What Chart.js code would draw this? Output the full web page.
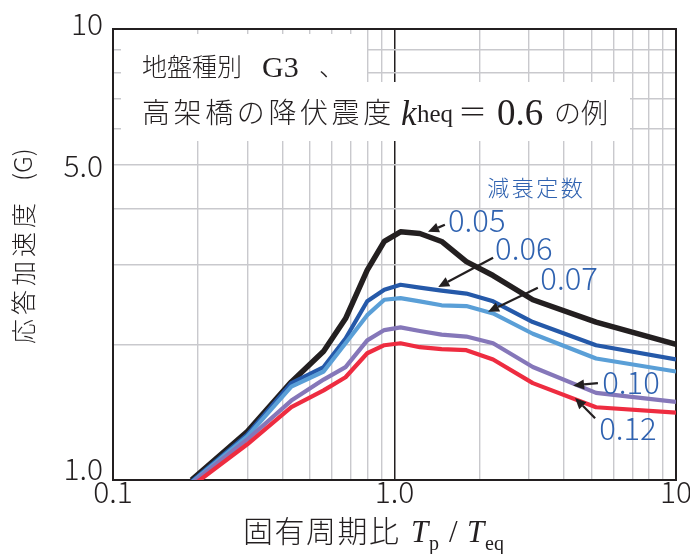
<!DOCTYPE html>
<html><head><meta charset="utf-8">
<script src="https://cdn.jsdelivr.net/npm/chart.js@4/dist/chart.umd.min.js"></script>
<style>html,body{margin:0;padding:0;background:#fff}</style>
</head><body>
<canvas id="c" width="690" height="554"></canvas>
<script>
// ---- data ----
const periods  = [0.19, 0.30, 0.43, 0.56, 0.67, 0.80, 0.92, 1.05, 1.23, 1.47, 1.80, 2.24, 3.10, 5.20, 10.0];
const damp005  = [1.00, 1.28, 1.65, 1.93, 2.28, 2.92, 3.38, 3.55, 3.52, 3.38, 3.05, 2.84, 2.51, 2.24, 2.00];
const damp006  = [0.992,1.26, 1.64, 1.78, 2.06, 2.49, 2.64, 2.71, 2.67, 2.63, 2.59, 2.49, 2.24, 1.99, 1.85];
const damp007  = [0.987,1.25, 1.61, 1.74, 2.01, 2.32, 2.51, 2.53, 2.49, 2.44, 2.43, 2.34, 2.11, 1.86, 1.74];
const damp010  = [0.983,1.23, 1.50, 1.67, 1.78, 2.04, 2.15, 2.18, 2.14, 2.10, 2.08, 2.01, 1.78, 1.56, 1.49];
const damp012  = [0.968,1.20, 1.45, 1.58, 1.69, 1.91, 1.99, 2.01, 1.97, 1.95, 1.94, 1.85, 1.64, 1.45, 1.41];
const seriesNames = ['0.05', '0.06', '0.07', '0.10', '0.12'];
const xGridValues = [0.1,0.2,0.3,0.4,0.5,0.6,0.7,0.8,0.9,1,2,3,4,5,6,7,8,9,10];
const yGridValues = [1,2,3,4,5,6,7,8,9,10];
const xTickValues = [0.1, 1, 10];
const xTickTexts  = ['0.1', '1.0', '10'];
const yTickValues = [1, 5, 10];
const yTickTexts  = ['1.0', '5.0', '10'];
const legendTitle = '減衰定数';

// ---- styles ----
const colors = ['#231f20', '#2559a9', '#5a9fd7', '#8577b9', '#ee2c40'];
const widths = [5.5, 4.2, 4.2, 4.2, 4.2];
const CJK = '"Noto Sans CJK JP", "Noto Sans", sans-serif';
const SERIF = '"Liberation Serif", "DejaVu Serif", serif';
const annoBlue = '#2f62b0';
// annotation anchors in data units: label centre, arrow tail, arrow head
const annoSpec = [
  {lab:[1.96,3.75], tail:[1.51,3.68], head:[1.315,3.55]},
  {lab:[2.88,3.25], tail:[2.24,3.11], head:[1.43,2.68]},
  {lab:[4.17,2.79], tail:[3.23,2.67], head:[2.15,2.36]},
  {lab:[6.92,1.64], tail:[5.28,1.64], head:[4.31,1.62]},
  {lab:[6.75,1.30], tail:[5.16,1.37], head:[4.38,1.52]}
];
const titleAnchor = [3.16, 4.46];

const allSeries = [damp005, damp006, damp007, damp010, damp012];
const datasets = allSeries.map((s, k) => ({
  label: seriesNames[k],
  data: periods.map((p, i) => ({x: p, y: s[i]})),
  borderColor: colors[k], borderWidth: widths[k],
  pointRadius: 0, tension: 0, borderJoinStyle: 'round', borderCapStyle: 'butt', fill: false
})).reverse();

// segments placed at explicit x offsets from a left origin
function placed(ctx, x0, y, segs) {
  ctx.textAlign = 'left'; ctx.textBaseline = 'alphabetic';
  segs.forEach(s => {
    ctx.font = s.f; ctx.letterSpacing = s.ls || '0px';
    ctx.fillText(s.t, x0 + s.x, y + (s.dy || 0));
  });
  ctx.letterSpacing = '0px';
}

function arrow(ctx, x1, y1, x2, y2) {
  const a = Math.atan2(y2 - y1, x2 - x1), L = 11, H = 5;
  const bx = x2 - L * Math.cos(a), by = y2 - L * Math.sin(a);
  ctx.strokeStyle = '#231f20'; ctx.fillStyle = '#231f20'; ctx.lineWidth = 2.2;
  ctx.beginPath(); ctx.moveTo(x1, y1); ctx.lineTo(bx, by); ctx.stroke();
  ctx.beginPath(); ctx.moveTo(x2, y2);
  ctx.lineTo(bx + H * Math.sin(a), by - H * Math.cos(a));
  ctx.lineTo(bx - H * Math.sin(a), by + H * Math.cos(a));
  ctx.closePath(); ctx.fill();
}

const deco = {
  id: 'deco',
  beforeDatasetsDraw(chart) {
    const {ctx, chartArea: ca} = chart;
    ctx.save();
    ctx.fillStyle = '#fff';
    ctx.fillRect(ca.left + 8, ca.top + 5, 246, 49);
    ctx.fillRect(ca.left + 8, ca.top + 53, 509, 59);
    ctx.strokeStyle = '#231f20'; ctx.lineWidth = 2;
    ctx.strokeRect(ca.left, ca.top, ca.right - ca.left, ca.bottom - ca.top);
    ctx.restore();
  },
  afterDatasetsDraw(chart) {
    const {ctx, chartArea: ca, scales: {x, y}} = chart;
    ctx.save();
    ctx.fillStyle = '#231f20';
    // tick labels
    ctx.font = '300 30px ' + CJK;
    ctx.textAlign = 'right'; ctx.textBaseline = 'alphabetic';
    yTickValues.forEach((v, i) => {
      const py = y.getPixelForValue(v);
      const off = v === 1 ? 0 : (v === 10 ? 6 : 12);
      ctx.fillText(yTickTexts[i], ca.left - 10, py + off);
    });
    ctx.textAlign = 'center';
    xTickValues.forEach((v, i) => {
      ctx.fillText(xTickTexts[i], x.getPixelForValue(v), ca.bottom + 23);
    });
    // x axis title
    placed(ctx, 243, ca.bottom + 62, [
      {x: 0, t: '固有周期比', f: '300 30px ' + CJK, ls: '1.5px'},
      {x: 168, t: 'T', f: 'italic 31px ' + SERIF},
      {x: 186, t: 'p', f: '20px ' + SERIF, dy: 8},
      {x: 206, t: '/', f: '31px ' + SERIF},
      {x: 224, t: 'T', f: 'italic 31px ' + SERIF},
      {x: 242, t: 'eq', f: '20px ' + SERIF, dy: 8}
    ]);
    // y axis title
    ctx.save();
    ctx.translate(33, 243);
    ctx.rotate(-Math.PI / 2);
    placed(ctx, 0, 0, [
      {x: -101, t: '応答加速度', f: '300 25px ' + CJK, ls: '4px'},
      {x: 62, t: '(G)', f: '300 25px ' + CJK, dy: -1}
    ]);
    ctx.restore();
    // caption
    placed(ctx, ca.left, ca.top + 47, [
      {x: 29, t: '地盤種別', f: '300 25px ' + CJK},
      {x: 149, t: 'G3', f: '30px ' + SERIF, dy: 1},
      {x: 206, t: '、', f: '300 25px ' + CJK}
    ]);
    placed(ctx, ca.left, ca.top + 94, [
      {x: 29, t: '高架橋の降伏震度', f: '300 28px ' + CJK, ls: '3.6px'},
      {x: 288, t: 'k', f: 'italic 35px ' + SERIF, dy: 2},
      {x: 304, t: 'heq', f: '25px ' + SERIF, dy: -1},
      {x: 345, t: '＝', f: '300 29px ' + CJK},
      {x: 384, t: '0.6', f: '37px ' + SERIF, dy: 2},
      {x: 441, t: 'の例', f: '300 27px ' + CJK}
    ]);
    // damping annotations
    ctx.fillStyle = annoBlue;
    ctx.letterSpacing = '2.5px';
    ctx.font = '300 22px ' + CJK; ctx.textAlign = 'center';
    ctx.fillText(legendTitle, x.getPixelForValue(titleAnchor[0]) + 1, y.getPixelForValue(titleAnchor[1]) + 9);
    ctx.letterSpacing = '0px';
    annoSpec.forEach((a, i) => {
      arrow(ctx, x.getPixelForValue(a.tail[0]), y.getPixelForValue(a.tail[1]),
                 x.getPixelForValue(a.head[0]), y.getPixelForValue(a.head[1]));
      ctx.fillStyle = annoBlue; ctx.font = '300 31px ' + CJK; ctx.textAlign = 'center';
      ctx.fillText(seriesNames[i], x.getPixelForValue(a.lab[0]), y.getPixelForValue(a.lab[1]) + 11);
    });
    ctx.restore();
  }
};

const gridColor = c => (c.tick && c.tick.value === 1) ? '#231f20' : '#c9c9cd';
new Chart(document.getElementById('c'), {
  type: 'line',
  data: {datasets},
  options: {
    responsive: false, animation: false, devicePixelRatio: 1,
    layout: {padding: {left: 113, right: 14, top: 29, bottom: 74}},
    plugins: {legend: {display: false}, tooltip: {enabled: false}},
    scales: {
      x: {type: 'logarithmic', min: 0.1, max: 10,
          afterBuildTicks: s => { s.ticks = xGridValues.map(v => ({value: v})); },
          ticks: {display: false},
          grid: {drawTicks: false, color: gridColor, lineWidth: c => (c.tick && c.tick.value === 1) ? 1.5 : 1.4},
          border: {display: true, color: '#231f20', width: 2}},
      y: {type: 'logarithmic', min: 1, max: 10,
          afterBuildTicks: s => { s.ticks = yGridValues.map(v => ({value: v})); },
          ticks: {display: false},
          grid: {drawTicks: false, color: c => '#c9c9cd', lineWidth: 1.4},
          border: {display: true, color: '#231f20', width: 2}}
    }
  },
  plugins: [deco]
});
</script>
</body></html>
